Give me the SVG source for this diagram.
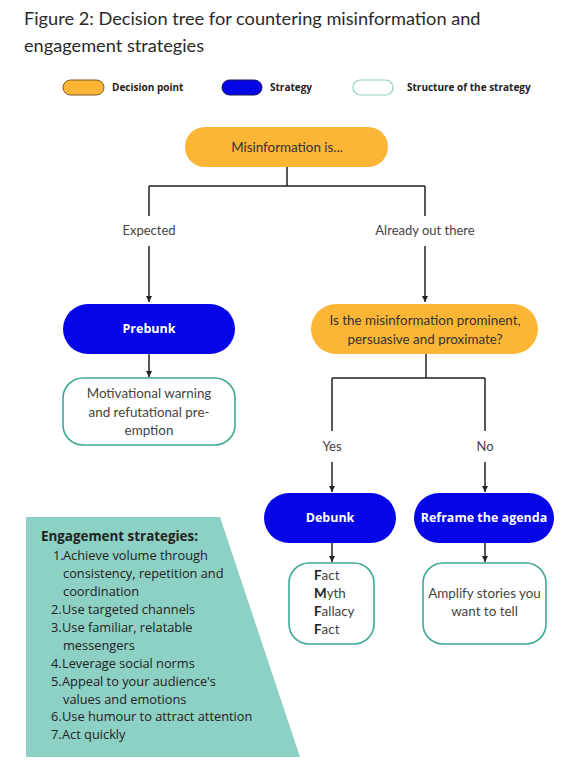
<svg xmlns="http://www.w3.org/2000/svg" width="586" height="774" viewBox="0 0 586 774">
<style>
text{font-family:"Lato","Noto Sans",sans-serif;fill:#333;}
.t{font-size:18.2px;fill:#2a2a2a;}
.leg{font-family:"Open Sans","Noto Sans",sans-serif;font-size:10px;font-weight:bold;fill:#222;}
.lbl{font-size:13px;text-anchor:middle;fill:#444;}
.dec{fill:#fcb535;}
.str{fill:#0505e8;}
.sw{font-family:"Open Sans","Noto Sans",sans-serif;font-size:12.5px;font-weight:bold;fill:#fff;text-anchor:middle;}
.box{fill:#fff;stroke:#3fa893;stroke-width:1.6;}
.bt{font-size:13.4px;text-anchor:middle;fill:#444;}
.ln{fill:none;stroke:#222;stroke-width:1.5;}
.eg{font-family:"Open Sans","Noto Sans",sans-serif;font-size:12.8px;fill:#222;}
.b{font-weight:bold;}
</style>
<defs>
<marker id="ah" viewBox="0 0 10 10" refX="10" refY="5" markerWidth="4" markerHeight="4" orient="auto">
<path d="M0,0 L10,5 L0,10 z" fill="#222"/>
</marker>
</defs>
<rect width="586" height="774" fill="#fff"/>
<g id="title">
<text class="t" x="24" y="25">Figure 2: Decision tree for countering misinformation and</text>
<text class="t" x="24" y="52">engagement strategies</text>
</g>
<g id="legend">
<rect x="63" y="80" width="41" height="15" rx="7.5" fill="#fcb535" stroke="#7a5a20" stroke-width="1"/>
<text class="leg" x="112" y="91">Decision point</text>
<rect x="222" y="80" width="40" height="15" rx="7.5" fill="#0505e8" stroke="#1a1a50" stroke-width="1"/>
<text class="leg" x="270" y="91">Strategy</text>
<rect x="353" y="80" width="40" height="15" rx="7.5" fill="#fff" stroke="#8fcfc5" stroke-width="1.2"/>
<text class="leg" x="407" y="91">Structure  of the strategy</text>
</g>
<g id="connectors">
<path class="ln" d="M287,167 V186 M149,186 H425 M149,186 V216 M425,186 V216"/>
<path class="ln" d="M149,246 V302" marker-end="url(#ah)"/>
<path class="ln" d="M425,246 V302" marker-end="url(#ah)"/>
<path class="ln" d="M149,354 V377" marker-end="url(#ah)"/>
<path class="ln" d="M426,354 V378 M332,378 H485 M332,378 V431 M485,378 V431"/>
<path class="ln" d="M332,462 V492" marker-end="url(#ah)"/>
<path class="ln" d="M485,462 V492" marker-end="url(#ah)"/>
<path class="ln" d="M332,543 V562" marker-end="url(#ah)"/>
<path class="ln" d="M485,543 V562" marker-end="url(#ah)"/>
<text class="lbl" x="149" y="235">Expected</text>
<text class="lbl" x="425" y="235">Already out there</text>
<text class="lbl" x="332" y="451">Yes</text>
<text class="lbl" x="485" y="451">No</text>
</g>
<g id="misinfo">
<rect class="dec" x="185" y="127" width="203" height="40" rx="20"/>
<text class="bt" x="287" y="151.5" style="fill:#333">Misinformation is...</text>
</g>
<g id="prebunk">
<rect class="str" x="63" y="304" width="172" height="50" rx="25"/>
<text class="sw" x="149" y="332.5">Prebunk</text>
</g>
<g id="prominent">
<rect class="dec" x="311" y="304" width="227" height="50" rx="25"/>
<text class="bt" x="425" y="325" style="fill:#333">Is the misinformation prominent,</text>
<text class="bt" x="425" y="344" style="fill:#333">persuasive and proximate?</text>
</g>
<g id="warning">
<rect class="box" x="63" y="378" width="172" height="67" rx="20"/>
<text class="bt" x="149" y="398">Motivational warning</text>
<text class="bt" x="149" y="417">and refutational pre-</text>
<text class="bt" x="149" y="435">emption</text>
</g>
<g id="debunk">
<rect class="str" x="264" y="493" width="132" height="50" rx="25"/>
<text class="sw" x="330" y="522">Debunk</text>
</g>
<g id="reframe">
<rect class="str" x="414" y="493" width="140" height="50" rx="25"/>
<text class="sw" x="484" y="522">Reframe the agenda</text>
</g>
<g id="fmff">
<rect class="box" x="289" y="563" width="85" height="81" rx="20"/>
<text class="bt" x="314" y="580" style="text-anchor:start"><tspan class="b" style="fill:#222">F</tspan>act</text>
<text class="bt" x="314" y="598" style="text-anchor:start"><tspan class="b" style="fill:#222">M</tspan>yth</text>
<text class="bt" x="314" y="616" style="text-anchor:start"><tspan class="b" style="fill:#222">F</tspan>allacy</text>
<text class="bt" x="314" y="634" style="text-anchor:start"><tspan class="b" style="fill:#222">F</tspan>act</text>
</g>
<g id="amplify">
<rect class="box" x="423" y="563" width="123" height="81" rx="20"/>
<text class="bt" x="484.5" y="598">Amplify stories you</text>
<text class="bt" x="484.5" y="616">want to tell</text>
</g>
<g id="engagement">
<path d="M26,517 H220 L300,757 H26 Z" fill="#8dd0c4"/>
<text class="eg b" x="41" y="541" style="font-size:13.4px">Engagement strategies:</text>
<text class="eg" x="53" y="560">1.</text><text class="eg" x="63" y="560">Achieve volume through</text>
<text class="eg" x="63" y="578">consistency, repetition and</text>
<text class="eg" x="63" y="596">coordination</text>
<text class="eg" x="51" y="614">2.</text><text class="eg" x="62" y="614">Use targeted channels</text>
<text class="eg" x="51" y="632">3.</text><text class="eg" x="62" y="632">Use familiar, relatable</text>
<text class="eg" x="63" y="650">messengers</text>
<text class="eg" x="51" y="668">4.</text><text class="eg" x="62" y="668">Leverage social norms</text>
<text class="eg" x="51" y="686">5.</text><text class="eg" x="62" y="686">Appeal to your audience's</text>
<text class="eg" x="63" y="704">values and emotions</text>
<text class="eg" x="51" y="721">6.</text><text class="eg" x="62" y="721">Use humour to attract attention</text>
<text class="eg" x="51" y="739">7.</text><text class="eg" x="62" y="739">Act quickly</text>
</g>
</svg>
